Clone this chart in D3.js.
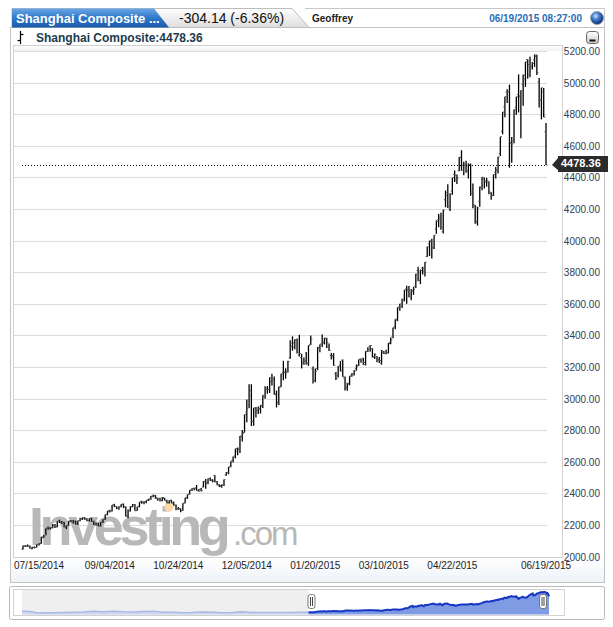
<!DOCTYPE html>
<html><head><meta charset="utf-8">
<script src="https://cdn.jsdelivr.net/npm/d3@7"></script>
<style>body{margin:0;background:#fff;} svg{display:block;font-family:"Liberation Sans",Arial,sans-serif;}</style>
</head><body><svg id="c" width="613" height="627"></svg>
<script>
// ---------- DATA ----------
const dates = [
"07/14/2014","07/15/2014","07/16/2014","07/17/2014","07/18/2014","07/21/2014","07/22/2014","07/23/2014","07/24/2014","07/25/2014","07/28/2014","07/29/2014","07/30/2014","07/31/2014",
"08/01/2014","08/04/2014","08/05/2014","08/06/2014","08/07/2014","08/08/2014","08/11/2014","08/12/2014","08/13/2014","08/14/2014","08/15/2014","08/18/2014","08/19/2014","08/20/2014","08/21/2014","08/22/2014","08/25/2014","08/26/2014","08/27/2014","08/28/2014","08/29/2014",
"09/01/2014","09/02/2014","09/03/2014","09/04/2014","09/05/2014","09/09/2014","09/10/2014","09/11/2014","09/12/2014","09/15/2014","09/16/2014","09/17/2014","09/18/2014","09/19/2014","09/22/2014","09/23/2014","09/24/2014","09/25/2014","09/26/2014","09/29/2014","09/30/2014",
"10/08/2014","10/09/2014","10/10/2014","10/13/2014","10/14/2014","10/15/2014","10/16/2014","10/17/2014","10/20/2014","10/21/2014","10/22/2014","10/23/2014","10/24/2014","10/27/2014","10/28/2014","10/29/2014","10/30/2014","10/31/2014",
"11/03/2014","11/04/2014","11/05/2014","11/06/2014","11/07/2014","11/10/2014","11/11/2014","11/12/2014","11/13/2014","11/14/2014","11/17/2014","11/18/2014","11/19/2014","11/20/2014","11/21/2014","11/24/2014","11/25/2014","11/26/2014","11/27/2014","11/28/2014",
"12/01/2014","12/02/2014","12/03/2014","12/04/2014","12/05/2014","12/08/2014","12/09/2014","12/10/2014","12/11/2014","12/12/2014","12/15/2014","12/16/2014","12/17/2014","12/18/2014","12/19/2014","12/22/2014","12/23/2014","12/24/2014","12/25/2014","12/26/2014","12/29/2014","12/30/2014","12/31/2014",
"01/05/2015","01/06/2015","01/07/2015","01/08/2015","01/09/2015","01/12/2015","01/13/2015","01/14/2015","01/15/2015","01/16/2015","01/19/2015","01/20/2015","01/21/2015","01/22/2015","01/23/2015","01/26/2015","01/27/2015","01/28/2015","01/29/2015","01/30/2015",
"02/02/2015","02/03/2015","02/04/2015","02/05/2015","02/06/2015","02/09/2015","02/10/2015","02/11/2015","02/12/2015","02/13/2015","02/16/2015","02/17/2015","02/25/2015","02/26/2015","02/27/2015",
"03/02/2015","03/03/2015","03/04/2015","03/05/2015","03/06/2015","03/09/2015","03/10/2015","03/11/2015","03/12/2015","03/13/2015","03/16/2015","03/17/2015","03/18/2015","03/19/2015","03/20/2015","03/23/2015","03/24/2015","03/25/2015","03/26/2015","03/27/2015","03/30/2015","03/31/2015",
"04/01/2015","04/02/2015","04/03/2015","04/07/2015","04/08/2015","04/09/2015","04/10/2015","04/13/2015","04/14/2015","04/15/2015","04/16/2015","04/17/2015","04/20/2015","04/21/2015","04/22/2015","04/23/2015","04/24/2015","04/27/2015","04/28/2015","04/29/2015","04/30/2015",
"05/04/2015","05/05/2015","05/06/2015","05/07/2015","05/08/2015","05/11/2015","05/12/2015","05/13/2015","05/14/2015","05/15/2015","05/18/2015","05/19/2015","05/20/2015","05/21/2015","05/22/2015","05/25/2015","05/26/2015","05/27/2015","05/28/2015","05/29/2015",
"06/01/2015","06/02/2015","06/03/2015","06/04/2015","06/05/2015","06/08/2015","06/09/2015","06/10/2015","06/11/2015","06/12/2015","06/15/2015","06/16/2015","06/17/2015","06/18/2015","06/19/2015"];

const open = [
2047,2067,2068,2064,2050,2057,2058,2077,2083,2120,2137,2183,2180,2183,
2197,2189,2226,2214,2217,2189,2199,2226,2219,2223,2205,2228,2238,2242,2237,2228,2243,2222,2205,2210,2195,
2218,2235,2267,2290,2290,2328,2317,2307,2318,2331,2315,2257,2289,2318,2330,2292,2318,2347,2343,2347,2358,
2365,2383,2384,2366,2366,2355,2368,2353,2341,2355,2341,2324,2303,2303,2292,2340,2372,2396,
2423,2432,2435,2417,2427,2440,2478,2463,2493,2483,2513,2474,2452,2444,2452,2516,2532,2570,2608,2637,
2668,2679,2759,2786,2915,2960,3050,2856,2915,2925,2934,2958,3011,3063,3058,3130,3118,3025,2971,3074,3168,3166,3174,
3258,3331,3326,3371,3276,3259,3224,3242,3223,3343,3189,3114,3189,3321,3350,3357,3380,3328,3273,3273,
3156,3144,3212,3243,3129,3067,3092,3147,3151,3190,3210,3251,3256,3215,3300,
3332,3317,3264,3264,3244,3224,3290,3285,3290,3356,3391,3457,3497,3575,3603,3630,3694,3682,3640,3680,3712,3810,
3748,3826,3803,3899,3980,3999,3951,4072,4133,4149,4056,4259,4303,4200,4313,4418,4388,4441,4527,4444,4483,
4441,4479,4315,4220,4121,4248,4340,4391,4372,4368,4301,4286,4432,4448,4551,4691,4846,4940,4943,4617,
4633,4844,4924,4916,4986,5046,5146,5049,5098,5144,5174,5004,4890,4942,4689];

const high = [
2071,2072,2077,2071,2062,2064,2077,2085,2126,2136,2178,2190,2185,2204,
2207,2224,2234,2226,2219,2198,2226,2231,2232,2228,2227,2246,2248,2249,2242,2242,2245,2227,2216,2213,2218,
2236,2266,2289,2297,2327,2334,2318,2318,2333,2336,2317,2298,2318,2333,2333,2316,2345,2353,2350,2357,2366,
2383,2391,2390,2372,2373,2378,2373,2360,2357,2360,2348,2330,2314,2305,2337,2373,2393,2421,
2433,2436,2453,2427,2434,2478,2491,2495,2500,2490,2515,2478,2458,2457,2488,2535,2567,2604,2634,2683,
2690,2763,2801,2899,2994,3091,3091,2942,2947,2950,2960,3021,3078,3080,3135,3158,3140,3051,3076,3157,3239,3192,3239,
3369,3394,3374,3381,3404,3283,3260,3295,3337,3400,3203,3190,3327,3343,3406,3384,3385,3349,3288,3288,
3168,3206,3238,3248,3140,3100,3142,3161,3181,3216,3248,3252,3257,3300,3325,
3336,3317,3286,3270,3264,3308,3301,3309,3353,3386,3449,3503,3578,3600,3632,3688,3715,3712,3694,3708,3790,3835,
3817,3835,3864,3961,4000,4011,4034,4128,4168,4176,4195,4318,4356,4300,4398,4444,4418,4529,4572,4499,4505,
4489,4488,4362,4226,4215,4342,4402,4399,4397,4376,4306,4418,4466,4530,4658,4814,4911,4958,4987,4656,
4829,4911,5052,4951,5052,5131,5147,5164,5130,5178,5176,5029,4967,4966,4744];

const low = [
2045,2060,2062,2052,2046,2052,2057,2070,2081,2117,2135,2170,2171,2180,
2181,2186,2212,2206,2186,2174,2196,2217,2210,2204,2200,2224,2232,2233,2224,2222,2220,2200,2195,2192,2190,
2212,2233,2261,2279,2285,2313,2300,2296,2313,2307,2254,2242,2285,2312,2290,2290,2312,2334,2331,2337,2352,
2360,2375,2366,2353,2348,2351,2355,2338,2336,2338,2324,2293,2296,2281,2290,2338,2365,2393,
2415,2420,2417,2410,2412,2438,2430,2458,2478,2470,2470,2452,2440,2436,2447,2512,2521,2566,2596,2622,
2641,2656,2728,2785,2850,2940,2826,2828,2881,2903,2906,2940,2999,3031,3035,3083,3024,2944,2960,3074,3116,3126,3165,
3253,3303,3312,3285,3267,3191,3215,3214,3207,3340,3095,3103,3180,3294,3327,3343,3321,3301,3247,3209,
3118,3134,3172,3138,3052,3049,3084,3138,3146,3177,3207,3227,3215,3210,3295,
3297,3260,3250,3230,3226,3215,3283,3281,3286,3344,3382,3439,3490,3556,3574,3616,3600,3642,3622,3656,3700,3742,
3725,3785,3772,3898,3903,3886,3947,4043,4085,4069,4045,4211,4206,4188,4290,4371,4359,4441,4443,4413,4430,
4393,4283,4205,4106,4095,4215,4318,4330,4341,4294,4259,4282,4393,4424,4536,4673,4780,4871,4461,4493,
4616,4797,4811,4648,4853,4972,5025,5034,5083,5099,5048,4842,4767,4780,4478];

const close = [
2067,2068,2067,2055,2059,2057,2076,2083,2124,2127,2178,2184,2182,2201,
2186,2223,2220,2217,2188,2194,2225,2223,2222,2207,2226,2239,2245,2240,2227,2241,2223,2207,2212,2195,2217,
2235,2266,2288,2288,2326,2319,2307,2315,2331,2315,2255,2294,2315,2329,2290,2316,2345,2344,2347,2357,2364,
2382,2389,2374,2366,2358,2374,2357,2341,2356,2339,2326,2302,2302,2290,2337,2373,2392,2420,
2430,2430,2420,2425,2418,2474,2469,2494,2485,2478,2474,2456,2450,2452,2487,2532,2567,2604,2630,2683,
2680,2763,2779,2899,2938,3020,2856,2940,2925,2938,2953,3021,3061,3057,3108,3128,3032,2977,3072,3157,3168,3165,3234,
3351,3352,3373,3294,3285,3229,3236,3222,3336,3376,3116,3173,3324,3343,3351,3383,3353,3305,3263,3210,
3128,3204,3175,3137,3076,3095,3142,3158,3174,3204,3247,3246,3229,3299,3310,
3336,3263,3280,3248,3241,3302,3286,3291,3349,3373,3449,3503,3578,3582,3617,3688,3691,3661,3683,3692,3787,3748,
3810,3825,3863,3961,3995,3957,4034,4122,4135,4084,4194,4287,4217,4294,4398,4414,4394,4527,4476,4476,4442,
4480,4298,4229,4112,4206,4334,4401,4376,4378,4308,4284,4418,4446,4530,4658,4814,4911,4942,4620,4612,
4829,4910,4910,4947,5023,5131,5114,5106,5121,5166,5062,4887,4967,4782.5,4478.36];

const yTicks = [2000,2200,2400,2600,2800,3000,3200,3400,3600,3800,4000,4200,4400,4600,4800,5000,5200];
const xTickLabels = ["07/15/2014","09/04/2014","10/24/2014","12/05/2014","01/20/2015","03/10/2015","04/22/2015","06/19/2015"];

// navigator history before the visible window (approximate half-monthly closes)
const navPriorDates = ["2013-06-04","2013-06-18","2013-06-25","2013-07-05","2013-07-19","2013-08-02","2013-08-16","2013-08-30","2013-09-13","2013-09-27","2013-10-11","2013-10-25","2013-11-08","2013-11-22","2013-12-06","2013-12-20","2014-01-03","2014-01-17","2014-01-30","2014-02-14","2014-02-28","2014-03-14","2014-03-28","2014-04-11","2014-04-25","2014-05-09","2014-05-23","2014-06-06","2014-06-20","2014-07-04"];
const navPriorClose = [2270,2160,1959,2007,1992,2029,2069,2098,2236,2160,2228,2133,2106,2197,2237,2084,2083,2004,2033,2115,2056,2004,2046,2130,2036,2011,2034,2030,2026,2059];

const symbolName = "Shanghai Composite";
const changeText = "-304.14 (-6.36%)";
const userName = "Geoffrey";
const timeStamp = "06/19/2015 08:27:00";

// ---------- DRAW ----------
const svg = d3.select("#c");
const defs = svg.append("defs");
function lg(id, stops){ const g=defs.append("linearGradient").attr("id",id).attr("x1",0).attr("y1",0).attr("x2",0).attr("y2",1);
  stops.forEach(s=>g.append("stop").attr("offset",s[0]).attr("stop-color",s[1])); }
lg("gBlue",[[0,"#6aa6e6"],[0.5,"#2f78c8"],[1,"#1b5aa8"]]);
lg("gGrey",[[0,"#ffffff"],[1,"#dedede"]]);
lg("gBar",[[0,"#ffffff"],[1,"#f0f0f0"]]);
lg("gAxis",[[0,"#ffffff"],[1,"#eef3f8"]]);
lg("gBtn",[[0,"#ffffff"],[1,"#c9c9c9"]]);
const rg = defs.append("radialGradient").attr("id","gGlobe").attr("cx","40%").attr("cy","35%").attr("r","65%");
rg.append("stop").attr("offset",0).attr("stop-color","#cfe3ff");
rg.append("stop").attr("offset",0.45).attr("stop-color","#3d77c9");
rg.append("stop").attr("offset",1).attr("stop-color","#0c2f6b");

// main panel
svg.append("rect").attr("x",10.5).attr("y",27.5).attr("width",594).attr("height",555).attr("fill","#fff").attr("stroke","#c3c3c3");
// header strip
svg.append("path").attr("d","M305,8.5 H604.5 V27.5").attr("fill","none").attr("stroke","#c8c8c8");
svg.append("path").attr("d","M12,8.5 H292 L309,27.5 H12 Z").attr("fill","url(#gGrey)").attr("stroke","#bdbdbd");
svg.append("path").attr("d","M12,8.5 H154 L169,27.5 H12 Z").attr("fill","url(#gBlue)");
svg.append("text").attr("x",16).attr("y",22.5).attr("fill","#fff").attr("font-size",13).attr("font-weight","bold").text(symbolName+" ...");
svg.append("text").attr("x",179).attr("y",23).attr("fill","#111").attr("font-size",14).text(changeText);
svg.append("text").attr("x",312).attr("y",22).attr("fill","#222").attr("font-size",10).attr("font-weight","bold").text(userName);
svg.append("text").attr("x",582).attr("y",22).attr("text-anchor","end").attr("fill","#2a6db8").attr("font-size",10).attr("font-weight","bold").text(timeStamp);
svg.append("circle").attr("cx",597).attr("cy",18).attr("r",6.5).attr("fill","url(#gGlobe)").attr("stroke","#8a9ab0").attr("stroke-width",0.8);

// legend row
const ic = svg.append("g").attr("stroke","#000").attr("stroke-width",1.2);
ic.append("line").attr("x1",20.5).attr("x2",20.5).attr("y1",31).attr("y2",44);
ic.append("line").attr("x1",17.5).attr("x2",20.5).attr("y1",40.5).attr("y2",40.5);
ic.append("line").attr("x1",20.5).attr("x2",23.5).attr("y1",34.5).attr("y2",34.5);
svg.append("text").attr("x",36).attr("y",42).attr("fill","#1d3b4d").attr("font-size",12).attr("font-weight","bold").text(symbolName+":"+d3.format(".2f")(close[close.length-1]));
svg.append("rect").attr("x",586.5).attr("y",31.5).attr("width",12).attr("height",12).attr("rx",3).attr("fill","url(#gBtn)").attr("stroke","#666");
svg.append("line").attr("x1",589.5).attr("x2",595.5).attr("y1",40.5).attr("y2",40.5).attr("stroke","#111").attr("stroke-width",2);

// plot frame
const PL=13, PR=562, PT=45, PB=557;
svg.append("rect").attr("x",PL+0.5).attr("y",PT+0.5).attr("width",PR-PL).attr("height",PB-PT).attr("fill","#fff").attr("stroke","#d0d0d0");
svg.append("rect").attr("x",PL+1).attr("y",PT+1).attr("width",PR-PL-1).attr("height",5).attr("fill","url(#gBar)");
// x axis band
svg.append("rect").attr("x",11).attr("y",PB+1).attr("width",593).attr("height",24).attr("fill","url(#gAxis)");

const N = dates.length;
const x = d3.scalePoint().domain(dates).range([23,546]);
const y = d3.scaleLinear().domain([2000,5200]).range([556.6,51]);

// grid
svg.append("g").selectAll("line").data(yTicks.filter(v=>v>2000)).join("line")
  .attr("x1",PL+1).attr("x2",547).attr("y1",d=>Math.round(y(d))+0.5).attr("y2",d=>Math.round(y(d))+0.5)
  .attr("stroke","#dcdcdc");

// watermark
const wm = svg.append("g");
wm.append("text").attr("x",29).attr("y",545).attr("font-size",54).attr("font-weight","bold").attr("letter-spacing",-4.4)
  .attr("fill","#b8b8b8").text("Investing");
wm.append("text").attr("x",233).attr("y",545).attr("font-size",33).attr("letter-spacing",-2)
  .attr("fill","#b8b8b8").text(".com");
wm.append("circle").attr("cx",169).attr("cy",507).attr("r",4.6).attr("fill","#fcd9a4");

// OHLC bars
const bars = svg.append("g");
const idx = d3.range(N);
bars.selectAll("line.hl").data(idx).join("line").attr("class","hl")
  .attr("x1",i=>x(dates[i])).attr("x2",i=>x(dates[i]))
  .attr("y1",i=>y(high[i])).attr("y2",i=>y(low[i])).attr("stroke","#000").attr("stroke-width",1.3);
bars.selectAll("line.o").data(idx).join("line").attr("class","o")
  .attr("x1",i=>x(dates[i])-1.6).attr("x2",i=>x(dates[i]))
  .attr("y1",i=>y(open[i])).attr("y2",i=>y(open[i])).attr("stroke","#555").attr("stroke-width",1);
bars.selectAll("line.c").data(idx).join("line").attr("class","c")
  .attr("x1",i=>x(dates[i])).attr("x2",i=>x(dates[i])+1.6)
  .attr("y1",i=>y(close[i])).attr("y2",i=>y(close[i])).attr("stroke","#555").attr("stroke-width",1);

// last price line
const last = close[N-1];
svg.append("line").attr("x1",22).attr("x2",547).attr("y1",Math.round(y(last))+0.5).attr("y2",Math.round(y(last))+0.5)
  .attr("stroke","#000").attr("stroke-dasharray","1,2");

// y axis labels
svg.append("g").selectAll("text").data(yTicks).join("text")
  .attr("x",600).attr("y",d=>y(d)+4).attr("text-anchor","end").attr("font-size",10).attr("fill","#2d4154")
  .text(d=>d3.format(".2f")(d));

// last price tag
const ty = y(last);
svg.append("path").attr("d",`M552,${ty} L558,${ty-7} V${ty-9} H608 V${ty+7} H558 V${ty+5} Z`).attr("fill","#2b2b2b");
svg.append("text").attr("x",561).attr("y",ty+2).attr("font-size",11).attr("font-weight","bold").attr("fill","#fff").text(d3.format(".2f")(last));

// x axis labels
const xg = svg.append("g");
xTickLabels.forEach(lbl=>{
  const t = xg.append("text").attr("y",569).attr("font-size",10).attr("fill","#222").attr("text-anchor","middle").text(lbl);
  const w = t.node().getComputedTextLength();
  let px = x(lbl);
  px = Math.max(px, PL + 1 + w/2);
  t.attr("x",px);
});

// ---------- NAVIGATOR ----------
svg.append("rect").attr("x",9.5).attr("y",586.5).attr("width",595).attr("height",33).attr("rx",2).attr("fill","#fff").attr("stroke","#b9b9b9");
svg.append("rect").attr("x",13.5).attr("y",589.5).attr("width",551).attr("height",26).attr("fill","#fff").attr("stroke","#d2d2d2");
const parse = d3.timeParse("%m/%d/%Y"), parseIso = d3.timeParse("%Y-%m-%d");
const nx = d3.scaleTime().domain([parseIso("2013-06-04"), parse(dates[N-1])]).range([22,549]);
const ny = d3.scaleLinear().domain([1800,5300]).range([614,591]);
const xStart = nx(parse(dates[0]));
svg.append("rect").attr("x",22).attr("y",590).attr("width",xStart-22).attr("height",25).attr("fill","#efefef");
const prior = navPriorDates.map((d,i)=>({t:parseIso(d),v:navPriorClose[i]})).concat([{t:parse(dates[0]),v:close[0]}]);
const cur = dates.map((d,i)=>({t:parse(d),v:close[i]}));
const area = d3.area().x(d=>nx(d.t)).y0(614.5).y1(d=>ny(d.v));
const ln = d3.line().x(d=>nx(d.t)).y(d=>ny(d.v));
svg.append("path").attr("d",area(prior)).attr("fill","#cfd8ef");
svg.append("path").attr("d",ln(prior)).attr("fill","none").attr("stroke","#aab9e6").attr("stroke-width",1.5);
svg.append("path").attr("d",area(cur)).attr("fill","#7e9be4");
svg.append("path").attr("d",ln(cur)).attr("fill","none").attr("stroke","#1537c4").attr("stroke-width",2);
function handle(hx){
  const g = svg.append("g");
  g.append("rect").attr("x",hx-3.5).attr("y",594.5).attr("width",7).attr("height",14).attr("rx",2.5).attr("fill","#fff").attr("stroke","#777");
  g.append("line").attr("x1",hx-1).attr("x2",hx-1).attr("y1",597).attr("y2",606).attr("stroke","#444");
  g.append("line").attr("x1",hx+1).attr("x2",hx+1).attr("y1",597).attr("y2",606).attr("stroke","#444");
}
handle(xStart+3);
handle(nx(parse(dates[N-1]))-6);
</script></body></html>
